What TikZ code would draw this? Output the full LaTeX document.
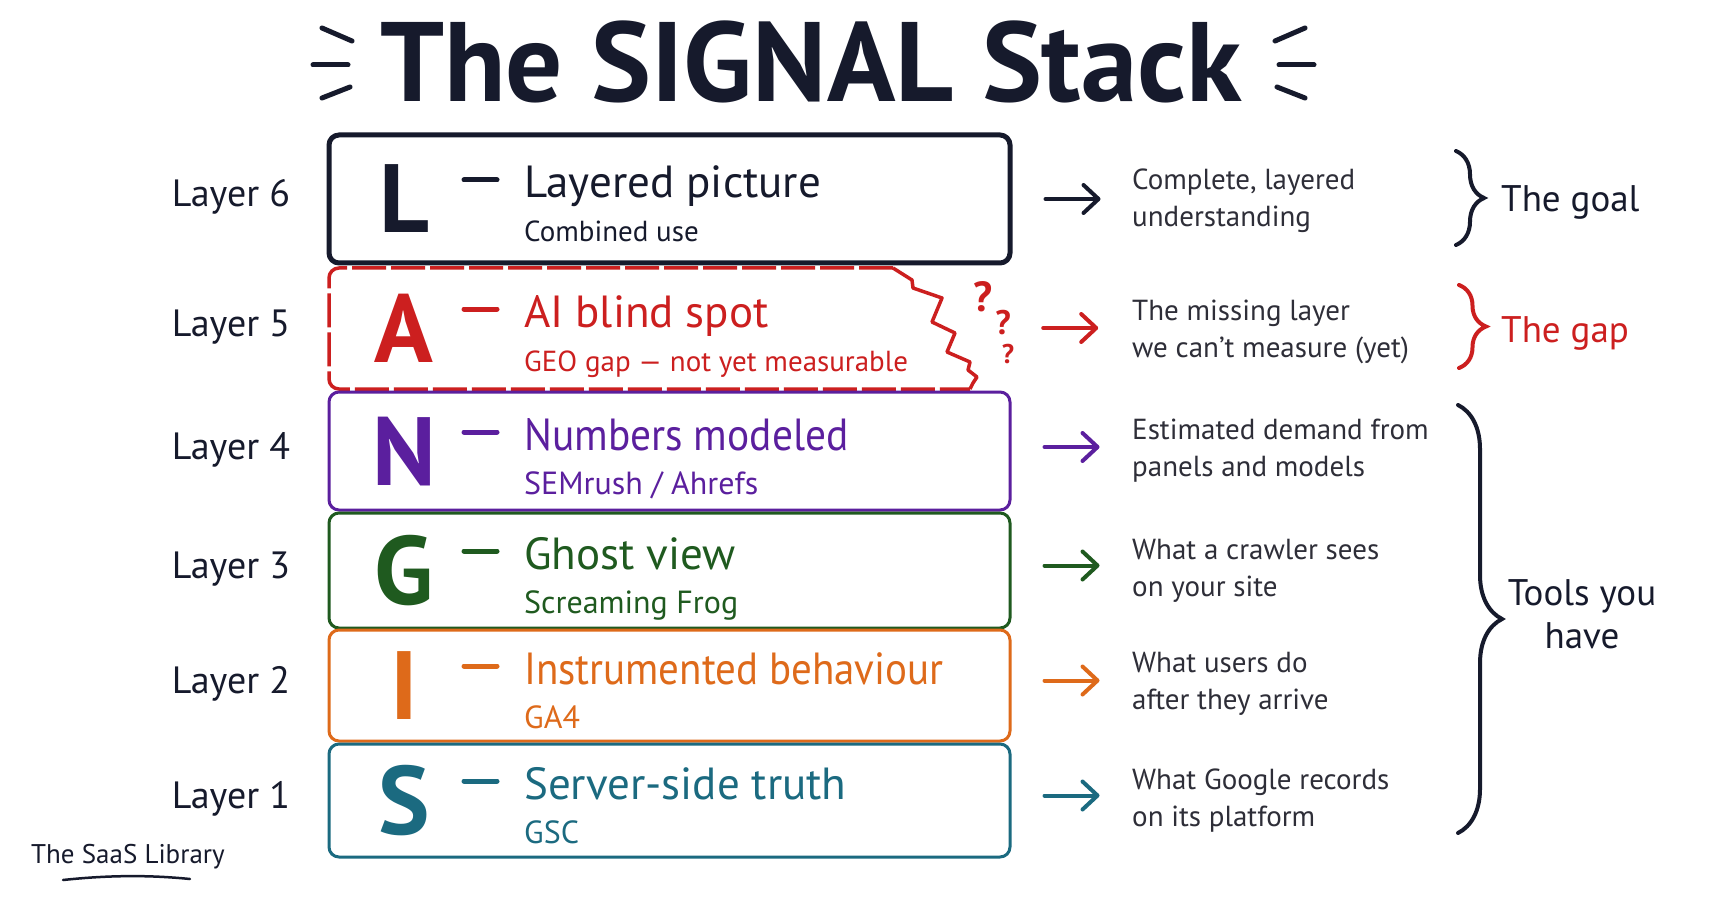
\documentclass[tikz,border=0pt]{standalone}
\usepackage{fontspec}
\setmainfont{PT Sans}
\usetikzlibrary{arrows.meta,decorations.pathreplacing}
\definecolor{navy}{HTML}{161A2C}
\definecolor{descgray}{HTML}{2E2E38}
\definecolor{cred}{HTML}{CC1F1F}
\definecolor{cpurple}{HTML}{5B1F9E}
\definecolor{cgreen}{HTML}{1F5A1F}
\definecolor{corange}{HTML}{DE6A1A}
\definecolor{cteal}{HTML}{1B6A80}
\newcommand\twol[2]{\begin{tabular}[t]{@{}l@{}}#1\\#2\end{tabular}}
\newcommand\twoc[2]{\begin{tabular}[t]{@{}c@{}}#1\\#2\end{tabular}}
\tikzset{
  boxsty/.style={draw, line width=3pt, rounded corners=10pt, minimum width=681pt, inner sep=0pt},
  bigl/.style={font=\fontsize{97}{97}\selectfont\bfseries, anchor=base, inner sep=0pt},
  ttl/.style={font=\fontsize{45}{45}\selectfont, anchor=base west, inner sep=0pt},
  subt/.style={font=\fontsize{29}{29}\selectfont, anchor=base west, inner sep=0pt},
  subtb/.style={font=\fontsize{32}{32}\selectfont, anchor=base west, inner sep=0pt},
  lay/.style={font=\fontsize{38}{38}\selectfont, anchor=base, inner sep=0pt, text=navy},
  desc/.style={font=\fontsize{29}{37}\selectfont, anchor=base west, inner sep=0pt, text=descgray},
  side/.style={font=\fontsize{37}{43}\selectfont, inner sep=0pt},
  dashmark/.style={line width=5pt, line cap=round},
  arr/.style={line width=4pt, line cap=round, -{Straight Barb[length=15pt,width=28pt,round]}},
  brc/.style={line width=4pt, line cap=round, decorate},
  ttlmark/.style={line width=5pt, line cap=round, navy},
  qm/.style={text=cred, inner sep=0pt, font=\bfseries}
}
\begin{document}
\begin{tikzpicture}[x=1pt,y=-1pt]
\useasboundingbox[fill=white] (0,0) rectangle (1731,909);

% title
\node[font=\fontsize{113}{113}\selectfont\bfseries, text=navy, anchor=base, inner sep=0pt] (title) at (811,102) {The SIGNAL Stack};
\draw[ttlmark] (322,28) -- (352,41);
\draw[ttlmark] (313,65) -- (348,65);
\draw[ttlmark] (322,98) -- (350,87);
\draw[ttlmark] (1305,28) -- (1275,41);
\draw[ttlmark] (1279,65) -- (1314,65);
\draw[ttlmark] (1305,98) -- (1277,87);

% ---------- boxes ----------
% L
\node[boxsty, draw=navy, line width=5pt, minimum height=128pt] (bL) at (669.5,199) {};
% A (invisible reference node + hand drawn border)
\node[minimum width=681pt, minimum height=122pt, inner sep=0pt] (bA) at (669.5,328) {};
\draw[cred, line width=3.5pt, dash pattern=on 34pt off 5pt, rounded corners=10pt]
  (893,268) -- (329,268) -- (329,389) -- (970,389);
\draw[cred, line width=3.5pt, line join=round]
  (893,268) -- (912,280) -- (913,288) -- (942,298) -- (932,322) -- (955,333) -- (947,352)
  -- (970,362) -- (968,370) -- (977,377) -- (973,383) -- (970,389);
% N, G, I, S
\node[boxsty, draw=cpurple, minimum height=118pt] (bN) at (669.5,451) {};
\node[boxsty, draw=cgreen, minimum height=115pt] (bG) at (669.5,570.5) {};
\node[boxsty, draw=corange, minimum height=111pt] (bI) at (669.5,685.5) {};
\node[boxsty, draw=cteal, minimum height=113pt] (bS) at (669.5,800.5) {};

% question marks
\node[qm, font=\fontsize{42}{42}\selectfont\bfseries] (q1) at (983,297) {?};
\node[qm, font=\fontsize{34}{34}\selectfont\bfseries] (q2) at (1003,323) {?};
\node[qm, font=\fontsize{27}{27}\selectfont\bfseries] (q3) at (1008,354) {?};

% ---------- box contents ----------
% L
\node[bigl, text=navy] (lL) at (404,233) {L};
\draw[dashmark, navy] (464,180) -- (497,180);
\node[ttl, text=navy] (tL) at (524,198) {Layered picture};
\node[subt, text=navy] (sL) at (524,242) {Combined use};
% A
\node[bigl, text=cred] (lA) at (404,362) {A};
\draw[dashmark, cred] (464,309) -- (497,309);
\node[ttl, text=cred] (tA) at (524,327) {AI blind spot};
\node[subt, text=cred] (sA) at (524,371) {GEO gap — not yet measurable};
% N
\node[bigl, text=cpurple] (lN) at (404,485) {N};
\draw[dashmark, cpurple] (464,432) -- (497,432);
\node[ttl, text=cpurple] (tN) at (524,450) {\scalebox{0.92}[1]{Numbers modeled}};
\node[subtb, text=cpurple] (sN) at (524,494) {SEMrush / Ahrefs};
% G
\node[bigl, text=cgreen] (lG) at (404,604) {G};
\draw[dashmark, cgreen] (464,551) -- (497,551);
\node[ttl, text=cgreen] (tG) at (524,569) {Ghost view};
\node[subtb, text=cgreen] (sG) at (524,613) {Screaming Frog};
% I
\node[bigl, text=corange] (lI) at (404,719) {I};
\draw[dashmark, corange] (464,666) -- (497,666);
\node[ttl, text=corange] (tI) at (524,684) {\scalebox{0.91}[1]{Instrumented behaviour}};
\node[subtb, text=corange] (sI) at (524,728) {GA4};
% S
\node[bigl, text=cteal] (lS) at (404,834) {S};
\draw[dashmark, cteal] (464,781) -- (497,781);
\node[ttl, text=cteal] (tS) at (524,799) {Server-side truth};
\node[subtb, text=cteal] (sS) at (524,843) {GSC};

% ---------- layer labels ----------
\node[lay] (y6) at (231,207) {Layer 6};
\node[lay] (y5) at (231,336) {Layer 5};
\node[lay] (y4) at (231,459) {Layer 4};
\node[lay] (y3) at (231,578) {Layer 3};
\node[lay] (y2) at (231,693) {Layer 2};
\node[lay] (y1) at (231,808) {Layer 1};

% ---------- arrows ----------
\draw[arr, navy] ([xshift=33pt]bL.east) -- ([xshift=88pt]bL.east);
\draw[arr, cred] ([xshift=33pt]bA.east) -- ([xshift=88pt]bA.east);
\draw[arr, cpurple] ([xshift=33pt,yshift=4pt]bN.east) -- ([xshift=88pt,yshift=4pt]bN.east);
\draw[arr, cgreen] ([xshift=33pt,yshift=5pt]bG.east) -- ([xshift=88pt,yshift=5pt]bG.east);
\draw[arr, corange] ([xshift=33pt,yshift=5pt]bI.east) -- ([xshift=88pt,yshift=5pt]bI.east);
\draw[arr, cteal] ([xshift=33pt,yshift=5pt]bS.east) -- ([xshift=88pt,yshift=5pt]bS.east);

% ---------- descriptions ----------
\node[desc] (dL) at (1132,190) {\twol{Complete, layered}{understanding}};
\node[desc] (dA) at (1132,320) {\twol{The missing layer}{we can’t measure (yet)}};
\node[desc] (dN) at (1132,439) {\twol{Estimated demand from}{panels and models}};
\node[desc] (dG) at (1132,559) {\twol{What a crawler sees}{on your site}};
\node[desc] (dI) at (1132,672) {\twol{What users do}{after they arrive}};
\node[desc] (dS) at (1132,789) {\twol{What Google records}{on its platform}};

% ---------- braces ----------
\draw[brc, navy, decoration={brace, amplitude=28pt}] (1456,151) -- (1456,245);
\draw[brc, cred, decoration={brace, amplitude=27pt}] (1459,285) -- (1459,368);
\draw[brc, navy, decoration={brace, amplitude=44pt}] (1458,405) -- (1458,833);

\node[side, text=navy, anchor=base west] (goal) at (1501,212) {The goal};
\node[side, text=cred, anchor=base west] (gap) at (1501,342) {The gap};
\node[side, text=navy, anchor=base] (tools) at (1582,605) {\twoc{Tools you}{have}};

% ---------- footer ----------
\node[font=\fontsize{27}{27}\selectfont, text=navy, anchor=base west, inner sep=0pt] (lib) at (31,863) {The SaaS Library};
\draw[navy, line width=2.5pt, line cap=round] (63,880) .. controls (110,875) and (150,875) .. (190,879);
\end{tikzpicture}
\end{document}
